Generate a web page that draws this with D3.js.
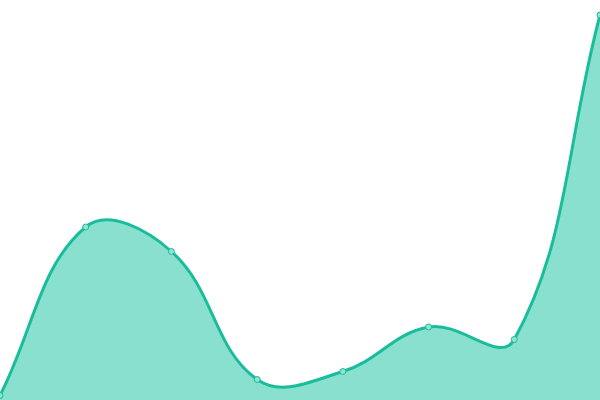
<!DOCTYPE html>
<html>
<head>
<meta charset="utf-8">
<script src="https://cdn.jsdelivr.net/npm/d3@7"></script>
<style>
  body { margin: 0; background: #fff; }
  svg { display: block; }
</style>
</head>
<body>
<svg id="chart" width="600" height="400"></svg>
<script>
// values (0 = bottom edge, 400 = top edge)
const categories = ["1", "2", "3", "4", "5", "6", "7", "8"]
const values = [4.5, 173, 148.5, 20.5, 28.5, 73, 60.5, 385]

const width = 600
const height = 400
const tension = 0.4

const svg = d3.select("#chart")

// Tension spline: each point's control handles lie along the line
// between its neighbours, split by the distance to each neighbour.
function TensionCurve(context) {
	this._context = context
}
TensionCurve.prototype = {
	areaStart() { this._line = 0 },
	areaEnd() { this._line = NaN },
	lineStart() { this._pts = [] },
	point(x, y) { this._pts.push([+x, +y]) },
	lineEnd() {
		const ctx = this._context
		const p = this._pts
		const n = p.length
		if (n) {
			this._line ? ctx.lineTo(p[0][0], p[0][1]) : ctx.moveTo(p[0][0], p[0][1])
			const cp = p.map((cur, i) => {
				const prev = p[i - 1] || cur
				const next = p[i + 1] || cur
				const d01 = Math.hypot(cur[0] - prev[0], cur[1] - prev[1])
				const d12 = Math.hypot(next[0] - cur[0], next[1] - cur[1])
				let s01 = d01 / (d01 + d12)
				let s12 = d12 / (d01 + d12)
				if (isNaN(s01)) s01 = 0
				if (isNaN(s12)) s12 = 0
				const fa = tension * s01
				const fb = tension * s12
				return {
					prev: [cur[0] - fa * (next[0] - prev[0]), cur[1] - fa * (next[1] - prev[1])],
					next: [cur[0] + fb * (next[0] - prev[0]), cur[1] + fb * (next[1] - prev[1])]
				}
			})
			for (let i = 1; i < n; i++) {
				ctx.bezierCurveTo(
					cp[i - 1].next[0], cp[i - 1].next[1],
					cp[i].prev[0], cp[i].prev[1],
					p[i][0], p[i][1])
			}
		}
		if (this._line || (this._line !== 0 && n === 1)) ctx.closePath()
		this._line = 1 - this._line
	}
}
const curveTension = context => new TensionCurve(context)

const x = d3.scalePoint()
	.domain(categories)
	.range([0, width])

const y = d3.scaleLinear()
	.domain([0, 400])
	.range([height, 0])

const data = categories.map((c, i) => ({ cat: c, value: values[i] }))

const area = d3.area()
	.x(d => x(d.cat))
	.y0(height)
	.y1(d => y(d.value))
	.curve(curveTension)

const line = d3.line()
	.x(d => x(d.cat))
	.y(d => y(d.value))
	.curve(curveTension)

svg.append("path")
	.datum(data)
	.attr("d", area)
	.style("fill", "#8ae0cf")

svg.append("path")
	.datum(data)
	.attr("d", line)
	.style("fill", "none")
	.style("stroke", "#1abc9c")
	.style("stroke-width", 3)

svg.selectAll("circle.pt")
	.data(data)
	.join("circle")
	.attr("class", "pt")
	.attr("cx", d => x(d.cat))
	.attr("cy", d => y(d.value))
	.attr("r", 3)
	.style("fill", "#8fe3d1")
	.style("stroke", "#1abc9c")
	.style("stroke-width", 1)
</script>
</body>
</html>
